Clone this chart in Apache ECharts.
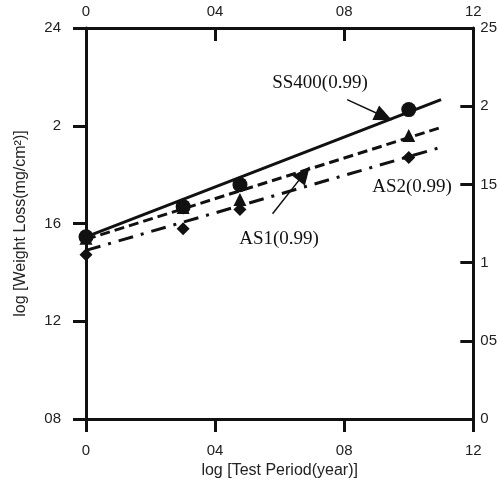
<!DOCTYPE html>
<html>
<head>
<meta charset="utf-8">
<script src="https://cdn.jsdelivr.net/npm/echarts@6/dist/echarts.min.js"></script>
<style>html,body{margin:0;padding:0;background:#fff}#c{width:500px;height:486px}</style>
</head>
<body>
<div id="c"></div>
<script>
// ---- data ----
var xValues = [0, 0.301, 0.477, 1.0];
var ss400 = [1.546, 1.669, 1.759, 2.066];
var as1 = [1.54, 1.665, 1.698, 1.960];
var as2 = [1.472, 1.579, 1.657, 1.870];
var ss400FitX = [0, 1.10];
var ss400FitY = [1.545, 2.107];
var as1FitX = [0, 1.093];
var as1FitY = [1.535, 1.990];
var as2FitX = [0, 1.10];
var as2FitY = [1.490, 1.912];
var xTickLabels = ['0', '04', '08', '12'];
var yLeftTickLabels = ['08', '12', '16', '2', '24'];
var yRightTickLabels = ['0', '05', '1', '15', '2', '25'];
var annSS400Arrow = [[0.809, 2.107], [0.923, 2.038]];
var annAS1Arrow = [[0.578, 1.640], [0.676, 1.804]];

function pairs(xs, ys) { return xs.map(function (x, i) { return [x, ys[i]]; }); }

var K = '#111';
var tickFont = { fontFamily: 'Liberation Sans', fontSize: 15, color: '#222' };

function axisBase(extra) {
  var o = {
    axisLine: { show: true, onZero: false, lineStyle: { color: K, width: 3 } },
    splitLine: { show: false },
    axisLabel: Object.assign({}, tickFont),
    axisTick: { show: true, length: 13, lineStyle: { color: K, width: 3 } }
  };
  for (var k in extra) {
    if (typeof extra[k] === 'object' && o[k] && !Array.isArray(extra[k])) o[k] = Object.assign({}, o[k], extra[k]);
    else o[k] = extra[k];
  }
  return o;
}

var chart = echarts.init(document.getElementById('c'), null, { renderer: 'canvas' });

var option = {
  animation: false,
  backgroundColor: '#fff',
  grid: { left: 86, top: 28, right: 25, bottom: 67, containLabel: false },
  xAxis: [
    axisBase({
      type: 'value', position: 'bottom', min: 0, max: 1.2, interval: 0.4,
      axisTick: { inside: false },
      axisLabel: { margin: 24, formatter: function (v, i) { return xTickLabels[i]; } },
      name: 'log [Test Period(year)]', nameLocation: 'middle', nameGap: 40,
      nameTextStyle: { fontFamily: 'Liberation Sans', fontSize: 16, color: '#222' }
    }),
    axisBase({
      type: 'value', position: 'top', min: 0, max: 1.2, interval: 0.4,
      axisTick: { inside: true },
      axisLabel: { margin: 9, formatter: function (v, i) { return xTickLabels[i]; } }
    })
  ],
  yAxis: [
    axisBase({
      type: 'value', position: 'left', min: 0.8, max: 2.4, interval: 0.4,
      axisTick: { inside: false },
      axisLabel: { margin: 25, formatter: function (v, i) { return yLeftTickLabels[i]; } },
      name: 'log [Weight Loss(mg/cm\u00B2)]', nameLocation: 'middle', nameGap: 57, nameRotate: 90,
      nameTextStyle: { fontFamily: 'Liberation Sans', fontSize: 16, color: '#222' }
    }),
    axisBase({
      type: 'value', position: 'right', min: 0, max: 2.5, interval: 0.5,
      axisTick: { inside: true },
      axisLabel: { margin: 7, formatter: function (v, i) { return yRightTickLabels[i]; } }
    })
  ],
  series: [
    { type: 'line', data: pairs(ss400FitX, ss400FitY), showSymbol: false, symbol: 'none',
      lineStyle: { color: K, width: 3, type: 'solid' }, z: 2 },
    { type: 'line', data: pairs(as1FitX, as1FitY), showSymbol: false, symbol: 'none',
      lineStyle: { color: K, width: 3, type: [10, 5] }, z: 2 },
    { type: 'line', data: pairs(as2FitX, as2FitY), showSymbol: false, symbol: 'none',
      lineStyle: { color: K, width: 3, type: [15, 8, 3, 8] }, z: 2 },
    { type: 'scatter', data: pairs(xValues, as2), symbol: 'diamond', symbolSize: 13,
      itemStyle: { color: K, opacity: 1 }, z: 3 },
    { type: 'scatter', data: pairs(xValues, as1), symbol: 'triangle', symbolSize: 13,
      itemStyle: { color: K, opacity: 1 }, z: 4 },
    { type: 'scatter', data: pairs(xValues, ss400), symbol: 'circle', symbolSize: 15,
      itemStyle: { color: K, opacity: 1 }, z: 5,
      markLine: {
        silent: true, animation: false,
        lineStyle: { color: K, width: 1.5, type: 'solid', opacity: 1 },
        label: { show: false },
        data: [
          [{ coord: annSS400Arrow[0], symbol: 'none' }, { coord: annSS400Arrow[1], symbol: 'triangle', symbolSize: [16, 18] }],
          [{ coord: annAS1Arrow[0], symbol: 'none' }, { coord: annAS1Arrow[1], symbol: 'triangle', symbolSize: [16, 18] }]
        ]
      }
    }
  ],
  graphic: [
    { type: 'text', position: [320, 83], style: { text: 'SS400(0.99)', font: '19px "Liberation Serif"', fill: K, textAlign: 'center', textVerticalAlign: 'middle' } },
    { type: 'text', position: [279, 239], style: { text: 'AS1(0.99)', font: '19px "Liberation Serif"', fill: K, textAlign: 'center', textVerticalAlign: 'middle' } },
    { type: 'text', position: [412, 187], style: { text: 'AS2(0.99)', font: '19px "Liberation Serif"', fill: K, textAlign: 'center', textVerticalAlign: 'middle' } }
  ]
};
chart.setOption(option);
</script>
</body>
</html>
